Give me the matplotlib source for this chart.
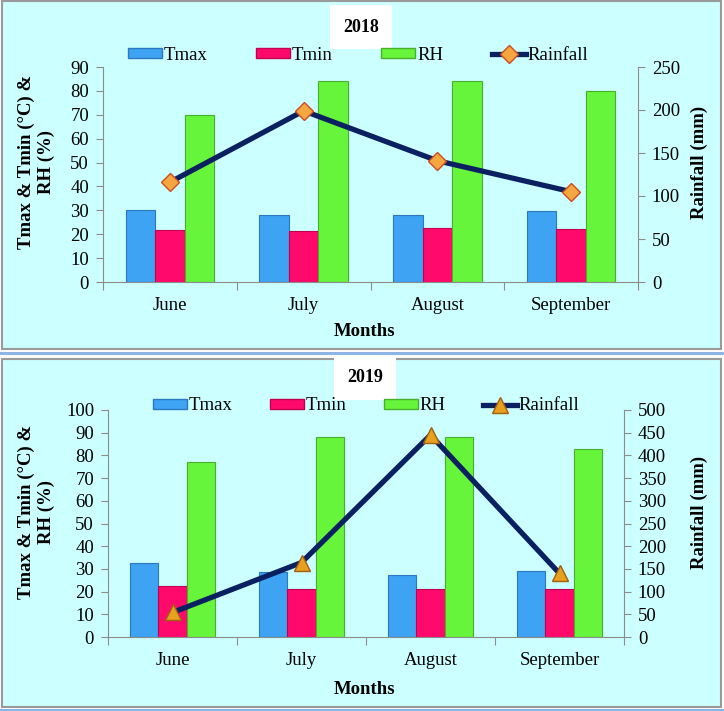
import matplotlib
matplotlib.use("Agg")
import matplotlib.pyplot as plt
import numpy as np
from matplotlib.patches import Rectangle, Patch
from matplotlib.lines import Line2D

months = ["June", "July", "August", "September"]
tmax_2018 = [30, 28, 28, 29.6]
tmin_2018 = [21.8, 21.5, 22.5, 22]
rh_2018 = [70, 84, 84, 80]
rain_2018 = [116, 199, 141, 105]

tmax_2019 = [32.5, 28.5, 27.3, 29]
tmin_2019 = [22.6, 21.3, 21.3, 21.3]
rh_2019 = [77, 88, 88, 83]
rain_2019 = [54, 164, 445, 140]

W, H = 724, 711
plt.rcParams['font.family'] = ['Liberation Serif', 'DejaVu Serif']
fig = plt.figure(figsize=(W / 100, H / 100), dpi=100)
fig.patch.set_facecolor('white')

BG = '#CCFFFF'
C_TMAX, E_TMAX = '#3DA3F2', '#2A78C0'
C_TMIN, E_TMIN = '#FF0A6C', '#C0004E'
C_RH, E_RH = '#66F53A', '#48B02A'
C_LINE = '#0A2060'
GREY = '#8C8C8C'


def fx(x):
    return x / W


def fy(y):
    return 1 - y / H


def panel(y0, y1):
    fig.add_artist(Rectangle((fx(2), fy(y1)), fx(719), (y1 - y0) / H,
                             transform=fig.transFigure, facecolor=BG,
                             edgecolor='#9A9A9A', linewidth=1.5, zorder=0))


panel(1, 349)
panel(359, 707)
for yy in (352.5, 709.5):
    fig.add_artist(Line2D([0, 1], [fy(yy), fy(yy)], transform=fig.transFigure,
                          color='#8DB4E2', linewidth=2.2, zorder=0))


def draw(box, tmax, tmin, rh, rain, lmax, lstep, rmax, rstep, marker, mface, medge, msize,
         title, title_xy, legend_y, ylab_y, months_y, legend_x, colsp):
    x0, y0, x1, y1 = box
    ax = fig.add_axes([fx(x0), fy(y1), (x1 - x0) / W, (y1 - y0) / H])
    ax.patch.set_alpha(0)
    x = np.arange(len(months))
    w = 0.22
    ax.bar(x - w, tmax, w, color=C_TMAX, edgecolor=E_TMAX, linewidth=0.8, zorder=2)
    ax.bar(x, tmin, w, color=C_TMIN, edgecolor=E_TMIN, linewidth=0.8, zorder=2)
    ax.bar(x + w, rh, w, color=C_RH, edgecolor=E_RH, linewidth=0.8, zorder=2)
    ax.set_xlim(-0.5, len(months) - 0.5)
    ax.set_ylim(0, lmax)
    ax.set_yticks(np.arange(0, lmax + 1, lstep))
    ax.set_xticks(np.arange(-0.5, len(months), 1.0))
    ax.set_xticklabels([])
    ax.set_xticks(x, minor=True)
    ax.set_xticklabels(months, minor=True, fontsize=13.5)
    ax.tick_params(axis='x', which='minor', length=0, pad=11)
    ax.tick_params(axis='x', which='major', length=6, color=GREY, direction='out')
    ax.tick_params(axis='y', length=5, color=GREY, labelsize=13.5, pad=5)
    for s in ('top', 'right'):
        ax.spines[s].set_visible(False)
    for s in ('left', 'bottom'):
        ax.spines[s].set_color(GREY)

    ax2 = ax.twinx()
    ax2.set_ylim(0, rmax)
    ax2.set_yticks(np.arange(0, rmax + 1, rstep))
    ax2.plot(x, rain, color=C_LINE, linewidth=3.8, marker=marker, markersize=msize,
             markerfacecolor=mface, markeredgecolor=medge, markeredgewidth=1, zorder=5)
    ax2.tick_params(axis='y', length=5, color=GREY, labelsize=13.5, pad=5)
    for s in ('top', 'left', 'bottom'):
        ax2.spines[s].set_visible(False)
    ax2.spines['right'].set_color(GREY)

    fig.text(fx(title_xy[0]), fy(title_xy[1]), title, fontsize=13, fontweight='bold',
             ha='center', va='center',
             bbox=dict(boxstyle='square,pad=0.75', facecolor='white', edgecolor='none'))

    fig.text(fx(36), fy(ylab_y), "Tmax & Tmin (°C) &\nRH (%)", rotation=90,
             fontsize=13.5, fontweight='bold', ha='center', va='center', multialignment='center')
    fig.text(fx(699), fy(ylab_y), "Rainfall (mm)", rotation=90,
             fontsize=13.5, fontweight='bold', ha='center', va='center')
    fig.text(fx(365), fy(months_y), "Months", fontsize=13.5, fontweight='bold',
             ha='center', va='center')

    handles = [Patch(facecolor=C_TMAX, edgecolor=E_TMAX),
               Patch(facecolor=C_TMIN, edgecolor=E_TMIN),
               Patch(facecolor=C_RH, edgecolor=E_RH),
               Line2D([], [], color=C_LINE, linewidth=3.8, marker=marker, markersize=msize,
                      markerfacecolor=mface, markeredgecolor=medge)]
    labels = ["Tmax", "Tmin", "RH", "Rainfall"]
    fig.legend(handles, labels, loc='center', bbox_to_anchor=(fx(legend_x), fy(legend_y)),
               ncol=4, frameon=False, fontsize=13.5, handlelength=1.8, handleheight=0.5,
               handletextpad=0.1, columnspacing=colsp, borderaxespad=0)
    return ax


draw((103, 67, 638, 282), tmax_2018, tmin_2018, rh_2018, rain_2018, 90, 10, 250, 50,
     'D', '#F4A640', '#D04A20', 9, "2018", (361, 27), 55, 162, 332, 358, 2.6)
draw((108, 410, 624, 637), tmax_2019, tmin_2019, rh_2019, rain_2019, 100, 10, 500, 50,
     '^', '#E8A020', '#A06010', 11, "2019", (365, 378), 406, 512, 690, 366, 2.0)

fig.savefig("out.png", dpi=100, facecolor=fig.get_facecolor())
